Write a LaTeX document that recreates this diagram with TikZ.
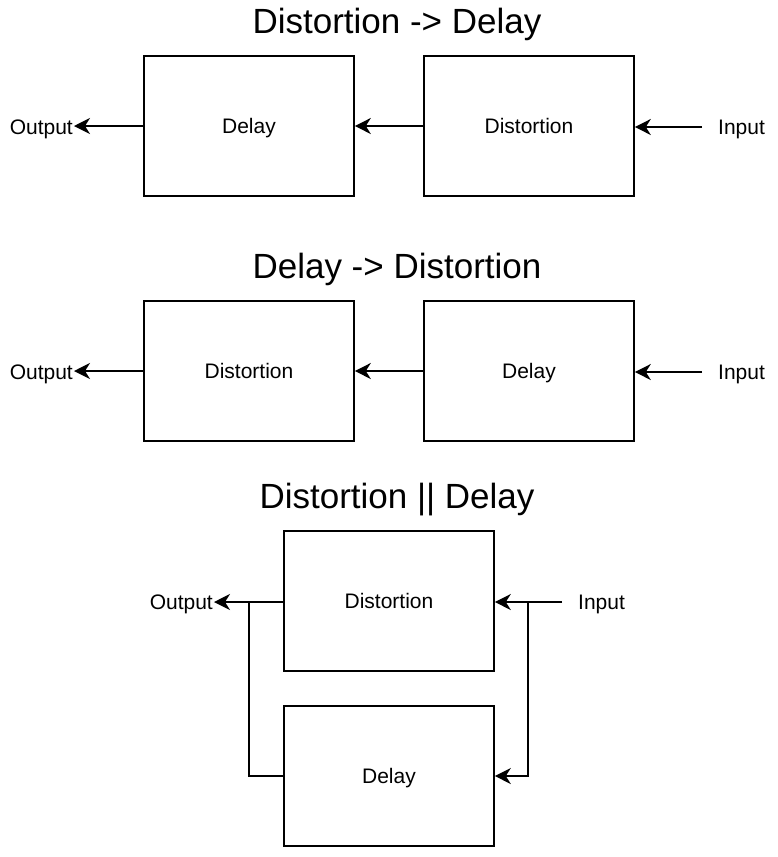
\documentclass[tikz,border=0pt]{standalone}
\usepackage{fontspec}
\setmainfont{Liberation Sans}
\usetikzlibrary{arrows.meta, positioning}

\tikzset{
    fx/.style={draw, line width=1.6pt, minimum width=210pt, minimum height=140pt,
        inner sep=0pt, text height=15pt, text depth=0pt,
        font=\fontsize{21}{25}\selectfont},
    io/.style={inner sep=1pt, text height=15pt, text depth=0pt,
        font=\fontsize{21}{25}\selectfont},
    heading/.style={inner sep=0pt, text height=25pt, text depth=0pt,
        font=\fontsize{35}{42}\selectfont},
    sig/.style={line width=1.6pt, -{Stealth[length=16pt, width=16pt, inset=5pt]}},
    wire/.style={line width=1.6pt}
}

\begin{document}
\begin{tikzpicture}[x=1pt, y=-1pt]
    \useasboundingbox (0,0) rectangle (778,857);

    % Distortion -> Delay
    \node[heading] (title1) at (397,21) {Distortion -> Delay};
    \node[fx] (delay1) at (249,126) {Delay};
    \node[fx] (dist1) at (529,126) {Distortion};
    \node[io, anchor=east] (out1) at (74,127) {Output};
    \node[io, anchor=west] (in1) at (717,127) {Input};
    \coordinate[left=15pt of in1.west] (src1);
    \draw[sig] (src1) -- (dist1.east |- src1);
    \draw[sig] (dist1.west) -- (delay1.east);
    \draw[sig] (delay1.west) -- (delay1.west -| out1.east);

    % Delay -> Distortion
    \node[heading] (title2) at (397,266) {Delay -> Distortion};
    \node[fx] (dist2) at (249,371) {Distortion};
    \node[fx] (delay2) at (529,371) {Delay};
    \node[io, anchor=east] (out2) at (74,372) {Output};
    \node[io, anchor=west] (in2) at (717,372) {Input};
    \coordinate[left=15pt of in2.west] (src2);
    \draw[sig] (src2) -- (delay2.east |- src2);
    \draw[sig] (delay2.west) -- (dist2.east);
    \draw[sig] (dist2.west) -- (dist2.west -| out2.east);

    % Distortion || Delay
    \node[heading] (title3) at (397,496) {Distortion || Delay};
    \node[fx] (dist3) at (389,601) {Distortion};
    \node[fx] (delay3) at (389,776) {Delay};
    \node[io, anchor=east] (out3) at (214,602) {Output};
    \node[io, anchor=west] (in3) at (577,602) {Input};
    \coordinate[left=15pt of in3.west] (src3);
    \coordinate (split) at (528,602);
    \coordinate (join) at (249,602);
    \draw[sig] (src3) -- (dist3.east |- src3);
    \draw[sig] (split) |- (delay3.east);
    \draw[sig] (dist3.west |- out3) -- (out3.east);
    \draw[wire] (delay3.west) -| (join);
\end{tikzpicture}
\end{document}
